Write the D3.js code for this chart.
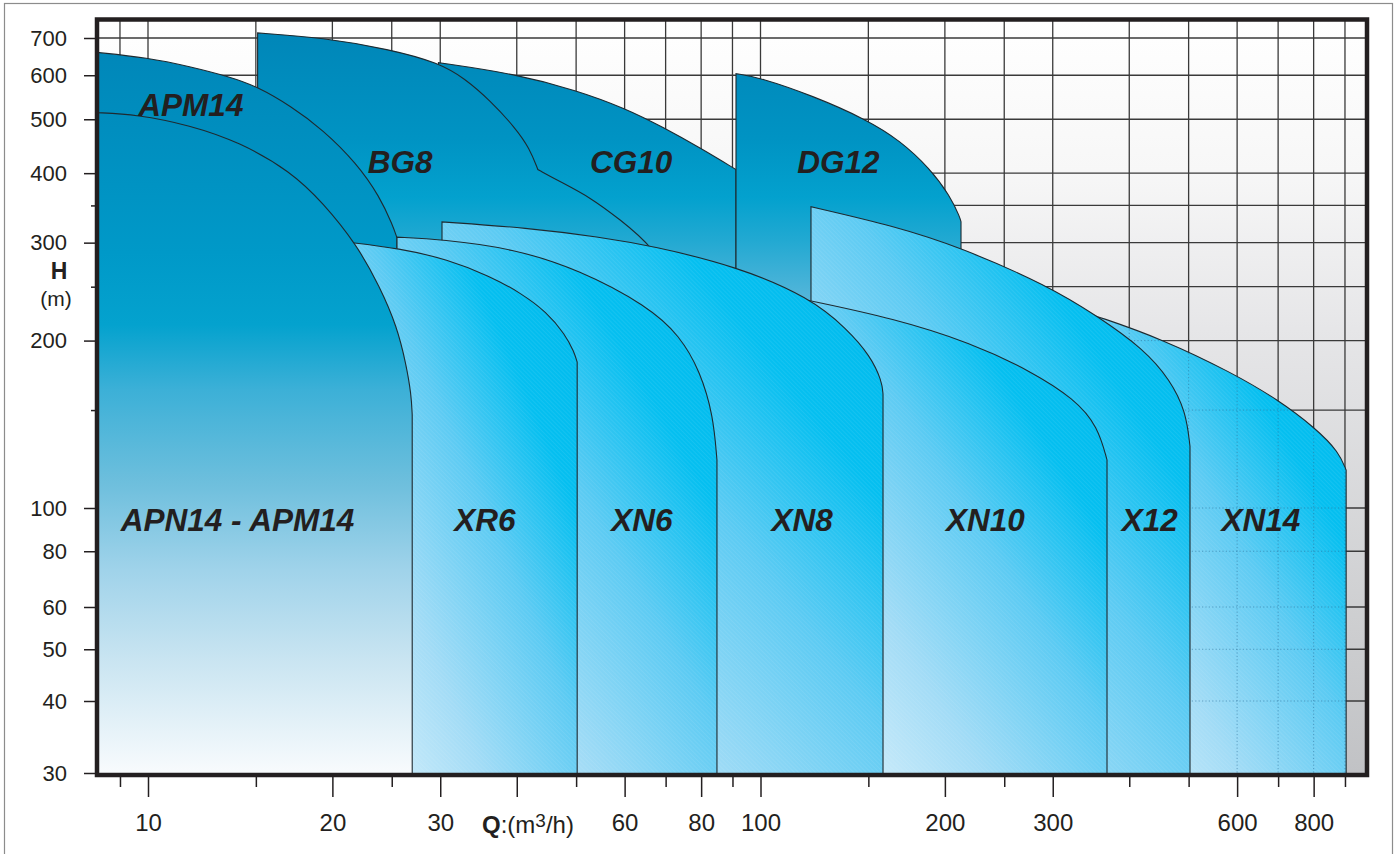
<!DOCTYPE html>
<html>
<head>
<meta charset="utf-8">
<script src="https://cdn.jsdelivr.net/npm/d3@7"></script>
<style>
  html, body { margin: 0; padding: 0; background: #fff; }
  svg { display: block; font-family: "Liberation Sans", Arial, Helvetica, sans-serif; }
</style>
</head>
<body>
<svg id="chart" width="1397" height="854"></svg>
<script>
// Q (m3/h) grid lines and ticks
const qGrid = [9, 10, 15, 20, 25, 30, 40, 50, 60, 70, 80, 90, 100, 150, 200, 250, 300, 400, 500, 600, 700, 800, 900];
const qMajor = [10, 20, 30, 40, 60, 80, 100, 200, 300, 600, 800];
const qLabels = [10, 20, 30, 60, 80, 100, 200, 300, 600, 800];

// H (m) grid lines and ticks
const hGrid = [40, 50, 60, 80, 100, 150, 200, 250, 300, 350, 400, 500, 600, 700];
const hLabels = [30, 40, 50, 60, 80, 100, 200, 300, 400, 500, 600, 700];
const hMinor = [150, 250, 350];

// pump ranges: top edge as [Q, H] pieces, closed with vertical sides down to 30 m
const apm14Top = [[[8.2, 660], [10, 645], [11.7, 622], [13.6, 596], [15.1, 572], [17.1, 528], [19.3, 479], [21.9, 417], [23.9, 363], [25.1, 322], [25.5, 306]]];
const apn14Top = [[[8.2, 514], [9.6, 510], [11.7, 488], [14.1, 455], [17.1, 403], [19.3, 354], [21.9, 298], [23.9, 250], [25.5, 212], [26.4, 181], [26.9, 160], [27, 147]]];
const bg8Top = [
  [[15.1, 715], [19.3, 701], [24.8, 668], [29.8, 632], [32.9, 592], [36.2, 540], [39.7, 484], [42, 443], [43.3, 406]],
  [[43.3, 406], [47.1, 386], [52.7, 362], [59, 330], [66.5, 296], [73.9, 247], [78.8, 192], [80.3, 175]]
];
const cg10Top = [[[29.8, 632], [39.9, 603], [50.2, 563], [59.9, 524], [69.3, 484], [80.3, 442], [91.2, 406]]];
const dg12Top = [[[91.2, 604], [99.4, 595], [121.8, 551], [148.7, 500], [169, 458], [189, 408], [204, 364], [211.7, 333], [212.5, 327]]];
const xr6Top = [[[21, 301], [25.8, 293], [30.8, 280], [36.2, 261], [40.5, 244], [44.8, 225], [48, 205], [49.6, 191], [50.2, 183]]];
const xn6Top = [[[25.5, 307], [30.2, 304], [39.4, 293], [50.7, 268], [65.3, 231], [73.9, 204], [79.7, 176], [83.7, 147], [84.9, 122]]];
const xn8Top = [[[30.2, 327], [41.6, 319], [54.7, 307], [66.5, 296], [91.5, 272], [120.4, 239], [138.4, 210], [151, 188], [157.9, 169], [158.5, 160]]];
const xn10Top = [[[118, 237], [165.8, 219], [220.7, 198], [274.4, 177], [326.2, 157], [355.6, 140], [367.9, 122]]];
const x12Top = [[[120.9, 348], [165.8, 321], [212.5, 294], [294.7, 251], [355.6, 221], [422.7, 193], [466.3, 170], [495.1, 149], [502.6, 129]]];
const xn14Top = [[[332, 226], [355.6, 221], [454, 201], [589, 175], [697, 157], [807, 139], [880, 126], [904, 117]]];

// labels and where they sit (Q, H)
const labelNames = ["APN14 - APM14", "XR6", "XN6", "XN8", "XN10", "X12", "XN14", "APM14", "BG8", "CG10", "DG12"];
const labelQ = [14, 35.5, 64, 117, 233, 432, 656, 11.75, 25.8, 61.5, 134];
const labelH = [89, 89, 89, 89, 89, 89, 89, 507, 400, 400, 400];

const H_BASE = 30;
const PLOT = { left: 97, right: 1367, top: 20, bottom: 773 };

const x = d3.scaleLog().domain([10, 1000]).range([148, 1373]);
const y = d3.scaleLog().domain([30, 40, 60, 100, 700]).range([773, 701, 607, 508, 38]);

const svg = d3.select("#chart");
const defs = svg.append("defs");

function linGrad(id, attrs, stops) {
  const g = defs.append("linearGradient").attr("id", id);
  Object.entries(attrs).forEach(([k, v]) => g.attr(k, v));
  stops.forEach(([o, c]) => g.append("stop").attr("offset", o).attr("stop-color", c));
}

linGrad("bgGrad", { x1: 0, y1: PLOT.top, x2: 0, y2: PLOT.bottom, gradientUnits: "userSpaceOnUse" },
  [[0, "#ffffff"], [0.2, "#f7f7f7"], [0.41, "#e6e6e8"], [0.84, "#cbccce"], [1, "#c1c2c5"]]);
linGrad("darkLeft", { x1: 0, y1: 50, x2: 0, y2: 773, gradientUnits: "userSpaceOnUse" },
  [[0, "#0087b9"], [0.28, "#0099c8"], [0.38, "#04a2ce"], [0.47, "#3cb0d7"], [0.6, "#6ebfdd"], [0.72, "#a0d3ea"], [0.84, "#c8e4f1"], [1, "#f8fbfd"]]);
linGrad("darkUpper", { x1: 0, y1: 30, x2: 0, y2: 300, gradientUnits: "userSpaceOnUse" },
  [[0, "#0086b8"], [0.4, "#0093c3"], [0.62, "#03a1ce"], [0.78, "#22a9d2"], [1, "#55b6da"]]);
linGrad("cyan", { x1: 0, y1: 1, x2: 1, y2: 0 },
  [[0, "#dff3fc"], [0.3, "#a3dcf6"], [0.55, "#5dcbf3"], [0.75, "#05bff0"], [1, "#00b9ec"]]);

const hatch = defs.append("pattern").attr("id", "hatch")
  .attr("width", 3).attr("height", 3)
  .attr("patternUnits", "userSpaceOnUse")
  .attr("patternTransform", "rotate(-45)");
hatch.append("line").attr("x1", 0).attr("y1", 0).attr("x2", 0).attr("y2", 3)
  .attr("stroke", "#ffffff").attr("stroke-opacity", 0.14).attr("stroke-width", 1);

defs.append("clipPath").attr("id", "plotClip")
  .append("rect")
  .attr("x", PLOT.left).attr("y", PLOT.top)
  .attr("width", PLOT.right - PLOT.left).attr("height", PLOT.bottom - PLOT.top + 2);

// outer thin border
svg.append("rect")
  .attr("x", 4.5).attr("y", 3.5).attr("width", 1388).attr("height", 860)
  .attr("fill", "#fff").attr("stroke", "#8c8c8c").attr("stroke-width", 1.2);

// plot background
svg.append("rect")
  .attr("x", PLOT.left).attr("y", PLOT.top)
  .attr("width", PLOT.right - PLOT.left).attr("height", PLOT.bottom - PLOT.top)
  .attr("fill", "url(#bgGrad)");

const plot = svg.append("g").attr("clip-path", "url(#plotClip)");

function drawGrid(g) {
  g.selectAll("line.v").data(qGrid).join("line").attr("class", "v")
    .attr("x1", d => x(d)).attr("x2", d => x(d))
    .attr("y1", PLOT.top).attr("y2", PLOT.bottom);
  g.selectAll("line.h").data(hGrid).join("line").attr("class", "h")
    .attr("x1", PLOT.left).attr("x2", PLOT.right)
    .attr("y1", d => y(d)).attr("y2", d => y(d));
}

const grid = plot.append("g").attr("stroke", "#3a3a3a").attr("stroke-width", 1.3);
drawGrid(grid);

const topLine = d3.line()
  .x(d => x(d[0])).y(d => y(d[1]))
  .curve(d3.curveBasis);

function regionPath(segs) {
  const first = segs[0][0];
  const lastSeg = segs[segs.length - 1];
  const last = lastSeg[lastSeg.length - 1];
  let d = `M${x(first[0])},${y(H_BASE) + 4}`;
  segs.forEach(s => { d += "L" + topLine(s).slice(1); });
  d += `L${x(last[0])},${y(H_BASE) + 4}Z`;
  return d;
}

// back to front
const regions = [
  { top: cg10Top, fill: "url(#darkUpper)" },
  { top: dg12Top, fill: "url(#darkUpper)" },
  { top: bg8Top, fill: "url(#darkUpper)" },
  { top: apm14Top, fill: "url(#darkLeft)" },
  { top: xn14Top, fill: "url(#cyan)", cyan: true, id: "xn14" },
  { top: x12Top, fill: "url(#cyan)", cyan: true },
  { top: xn10Top, fill: "url(#cyan)", cyan: true },
  { top: xn8Top, fill: "url(#cyan)", cyan: true },
  { top: xn6Top, fill: "url(#cyan)", cyan: true },
  { top: xr6Top, fill: "url(#cyan)", cyan: true },
  { top: apn14Top, fill: "url(#darkLeft)" }
];

regions.forEach(r => {
  const d = regionPath(r.top);
  plot.append("path").attr("d", d).attr("fill", r.fill);
  if (r.cyan) plot.append("path").attr("d", d).attr("fill", "url(#hatch)");
  if (r.id === "xn14") {
    // grid shows faintly through XN14
    defs.append("clipPath").attr("id", "xn14Clip").append("path").attr("d", d);
    const g = plot.append("g").attr("clip-path", "url(#xn14Clip)")
      .attr("stroke", "#2b6e97").attr("stroke-opacity", 0.55)
      .attr("stroke-width", 1).attr("stroke-dasharray", "1.2 2.2");
    drawGrid(g);
  }
  plot.append("path").attr("d", d).attr("fill", "none")
    .attr("stroke", "#1e2a30").attr("stroke-width", 1.1).attr("stroke-linejoin", "miter");
});

// region names
svg.append("g")
  .attr("font-size", 31.5).attr("font-weight", "bold").attr("font-style", "italic")
  .attr("fill", "#231f20").attr("text-anchor", "middle")
  .selectAll("text").data(labelNames).join("text")
  .attr("x", (d, i) => x(labelQ[i]))
  .attr("y", (d, i) => y(labelH[i]))
  .text(d => d);

// frame
svg.append("rect")
  .attr("x", PLOT.left).attr("y", PLOT.top - 0.5)
  .attr("width", PLOT.right - PLOT.left).attr("height", PLOT.bottom - PLOT.top + 2.5)
  .attr("fill", "none").attr("stroke", "#231f20").attr("stroke-width", 4.5);

// x axis
const axisY = PLOT.bottom + 4;
const gx = svg.append("g").attr("transform", `translate(0,${axisY})`)
  .call(d3.axisBottom(x).tickValues(qMajor).tickSize(20).tickPadding(17)
    .tickFormat(d => qLabels.includes(d) ? d : ""));
const gxMinor = svg.append("g").attr("transform", `translate(0,${axisY})`)
  .call(d3.axisBottom(x).tickValues(qGrid.filter(d => !qMajor.includes(d))).tickSize(10).tickFormat(""));

// y axis
const axisX = PLOT.left - 2;
const gy = svg.append("g").attr("transform", `translate(${axisX},0)`)
  .call(d3.axisLeft(y).tickValues(hLabels).tickSize(11).tickPadding(17).tickFormat(d => d));
const gyMinor = svg.append("g").attr("transform", `translate(${axisX},0)`)
  .call(d3.axisLeft(y).tickValues(hMinor).tickSize(4).tickFormat(""));

[gx, gxMinor, gy, gyMinor].forEach(g => {
  g.select(".domain").remove();
  g.attr("font-family", null).attr("color", "#231f20");
  g.selectAll(".tick line").attr("stroke-width", 1.5);
});
gx.attr("font-size", 24);
gy.attr("font-size", 22);

// axis titles
svg.append("text").attr("x", 59).attr("y", 279).attr("text-anchor", "middle")
  .attr("font-size", 23).attr("font-weight", "bold").attr("fill", "#231f20").text("H");
svg.append("text").attr("x", 56).attr("y", 306).attr("text-anchor", "middle")
  .attr("font-size", 21).attr("fill", "#231f20").text("(m)");

const qTitle = svg.append("text").attr("x", 482).attr("y", 833)
  .attr("font-size", 24).attr("fill", "#231f20");
qTitle.append("tspan").attr("font-weight", "bold").text("Q");
qTitle.append("tspan").text(":(m");
qTitle.append("tspan").attr("font-size", 19).attr("dy", -6).text("3");
qTitle.append("tspan").attr("dy", 6).text("/h)");
</script>
</body>
</html>
